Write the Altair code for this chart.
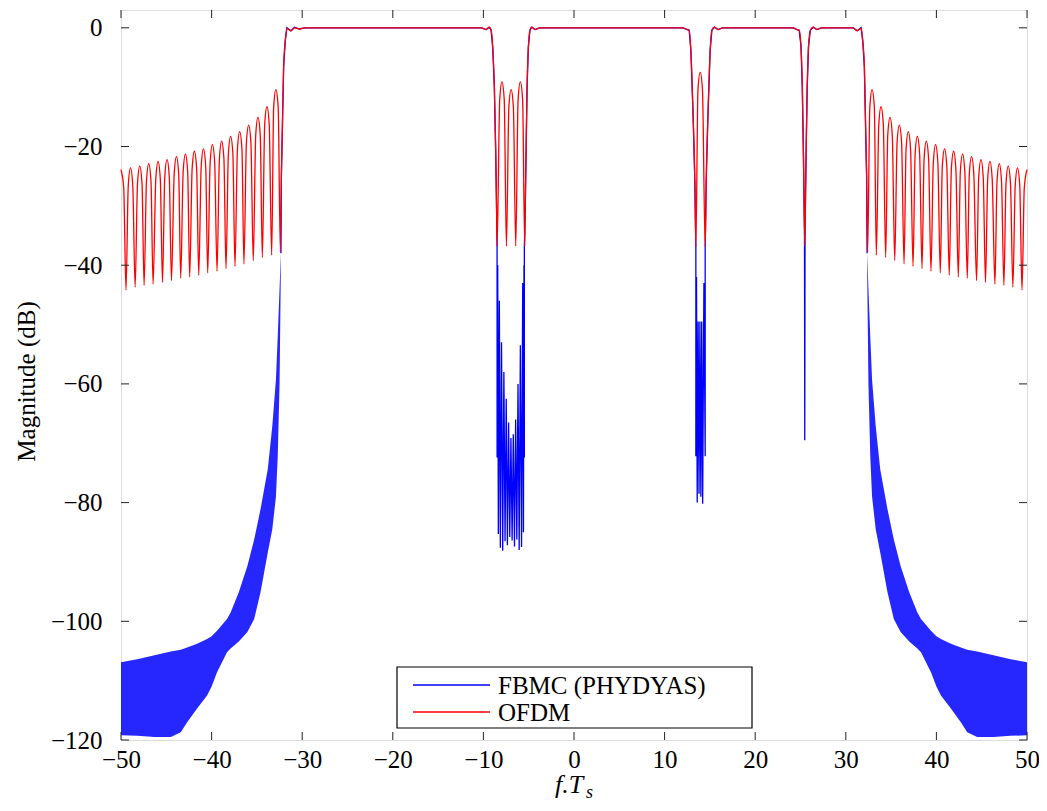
import altair as alt
import pandas as pd

# ---------------- values ----------------
X_TICKS = [-50, -40, -30, -20, -10, 0, 10, 20, 30, 40, 50]
Y_TICKS = [-120, -100, -80, -60, -40, -20, 0]

# OFDM (red): left stop band side lobes (right stop band is its mirror image)
OFDM_EDGE_X = [-50.0, -49.7]
OFDM_EDGE_DB = [-23.9, -27.0]
OFDM_NULL_X = [-49.45, -48.44, -47.45, -46.46, -45.42, -44.43, -43.41, -42.42, -41.42,
               -40.43, -39.40, -38.41, -37.42, -36.43, -35.40, -34.40, -33.37]
OFDM_NULL_DB = [-44.2, -43.7, -43.4, -43.2, -42.9, -42.6, -42.2, -42.0, -41.7,
                -41.3, -41.0, -40.6, -40.2, -39.8, -39.2, -38.7, -38.3]
OFDM_PEAK_X = [-48.95, -47.93, -46.94, -45.91, -44.92, -43.88, -42.89, -41.90, -40.90,
               -39.91, -38.89, -37.90, -36.90, -35.91, -34.88, -33.89, -32.90]
OFDM_PEAK_DB = [-23.6, -23.3, -22.9, -22.5, -22.2, -21.7, -21.3, -20.8, -20.4,
                -19.7, -19.1, -18.3, -17.5, -16.4, -15.1, -13.3, -10.4]
LOBE_HALF = 0.25   # lobe shoulders sit ~3 dB below the peak, a quarter unit away
LOBE_DROP = 3.0

# OFDM pass bands and notches
OFDM_IN_X = [-32.41, -32.30, -32.20, -32.05, -31.87, -31.69, -31.25, -30.85, -30.3, -29.7,
             -10.2, -9.7, -9.35, -9.15, -8.97, -8.79, -8.64, -8.53, -8.49, -8.20, -7.95,
             -7.70, -7.46, -7.19, -6.94, -6.69, -6.43, -6.17, -5.92, -5.67, -5.44, -5.40,
             -5.29, -5.18, -5.04, -4.86, -4.66, -4.3, -3.8, 12.0, 12.5, 12.71, 12.90, 13.15,
             13.34, 13.45, 13.68, 13.93, 14.18, 14.48, 14.59, 14.78, 15.03, 15.22, 15.5, 15.9,
             16.4, 24.2, 24.6, 24.85, 25.05, 25.20, 25.33, 25.47, 25.61, 25.74, 25.89, 26.09,
             26.4, 26.8, 27.3, 30.8, 31.25, 31.69, 31.87, 32.05, 32.20, 32.30, 32.41]
OFDM_IN_DB = [-37.8, -25.0, -17.8, -6.6, -2.2, -0.1, -0.5, 0.0, -0.2, 0.0,
              0.0, -0.3, 0.1, -0.4, -3.3, -10.0, -21.0, -32.0, -36.8, -12.1, -9.1,
              -12.1, -36.8, -13.4, -10.4, -13.4, -36.8, -12.1, -9.1, -12.1, -36.8, -32.0,
              -21.0, -10.0, -3.3, -0.4, 0.1, -0.3, 0.0, 0.0, -0.3, -0.4, -3.8, -15.0,
              -26.0, -36.9, -10.5, -7.5, -10.5, -36.9, -26.0, -15.0, -3.8, -0.4, 0.1, -0.3,
              0.0, 0.0, -0.3, -0.4, -3.0, -10.0, -22.0, -36.8, -22.0, -10.0, -3.0, -0.4,
              0.1, -0.3, 0.0, 0.0, -0.5, -0.1, -2.2, -6.6, -17.8, -25.0, -37.8]

# FBMC (blue): left stop band envelope of the dense ripple (right is the mirror)
FBMC_SB_X = [-50.0, -48.2, -46.3, -44.5, -43.4, -42.7, -41.6, -40.5, -40.0, -39.4, -38.3,
             -37.9, -37.0, -36.05, -35.3, -34.6, -33.8, -33.3, -32.9, -32.7, -32.5, -32.35]
FBMC_SB_UPPER = [-106.9, -106.4, -105.7, -105.1, -104.8, -104.4, -103.8, -103.0, -102.5,
                 -101.6, -99.6, -98.5, -95.1, -90.7, -86.2, -81.1, -74.4, -67.1, -59.3,
                 -52.0, -44.0, -38.0]
FBMC_SB_LOWER = [-119.2, -119.3, -119.5, -119.5, -118.7, -117.0, -114.7, -112.5, -111.0,
                 -108.6, -105.2, -104.6, -103.4, -101.8, -99.6, -95.1, -88.4, -84.5, -79.0,
                 -72.2, -60.0, -40.0]

# FBMC pass bands and notches
FBMC_A_X = [-32.35, -32.30, -32.20, -32.05, -31.87, -31.69, -31.25, -30.85, -30.3, -29.7,
            -10.2, -9.7, -9.35, -9.15, -8.97, -8.79, -8.64, -8.53, -8.49]
FBMC_A_DB = [-38.0, -25.0, -17.8, -6.6, -2.2, 0.0, -0.5, 0.1, -0.2, 0.0,
             0.0, -0.3, 0.1, -0.4, -3.3, -10.0, -21.0, -32.0, -36.9]
GAP1_X = [-8.49, -8.42, -8.35, -8.24, -8.13, -8.00, -7.87, -7.74, -7.61, -7.48, -7.35,
          -7.22, -7.09, -6.96, -6.83, -6.70, -6.57, -6.44, -6.31, -6.18, -6.05, -5.92,
          -5.79, -5.66, -5.58, -5.52, -5.48]
GAP1_DB = [-72.4, -40.0, -85.3, -46.0, -87.6, -53.0, -88.1, -58.0, -86.5, -62.5, -87.2,
           -66.5, -85.8, -69.1, -86.4, -68.5, -87.4, -66.0, -86.2, -60.0, -88.0, -53.5,
           -87.5, -43.0, -85.0, -40.0, -72.4]
FBMC_B_X = [-5.48, -5.40, -5.29, -5.18, -5.04, -4.86, -4.66, -4.3, -3.8, 12.0, 12.5, 12.71,
            12.90, 13.15, 13.34, 13.45]
FBMC_B_DB = [-36.9, -32.0, -21.0, -10.0, -3.3, -0.4, 0.1, -0.3, 0.0, 0.0, -0.3, -0.4,
             -3.8, -15.0, -26.0, -36.9]
GAP2_X = [13.45, 13.52, 13.60, 13.70, 13.80, 13.90, 14.00, 14.10, 14.20, 14.34, 14.48]
GAP2_DB = [-72.2, -42.0, -80.0, -49.5, -78.5, -49.5, -79.0, -49.5, -80.2, -43.0, -72.2]
FBMC_C_X = [14.48, 14.59, 14.78, 15.03, 15.22, 15.5, 15.9, 16.4, 24.2, 24.6, 24.85, 25.05,
            25.20, 25.33, 25.44, 25.47, 25.50, 25.61, 25.74, 25.89, 26.09, 26.4, 26.8, 27.3,
            30.8, 31.25, 31.69, 31.87, 32.05, 32.20, 32.30, 32.35]
FBMC_C_DB = [-36.9, -26.0, -15.0, -3.8, -0.4, 0.1, -0.3, 0.0, 0.0, -0.3, -0.4, -3.0,
             -10.0, -22.0, -34.0, -69.5, -34.0, -22.0, -10.0, -3.0, -0.4, 0.1, -0.3, 0.0,
             0.0, -0.5, 0.0, -2.2, -6.6, -17.8, -25.0, -38.0]

SERIES = ["FBMC (PHYDYAS)", "OFDM"]
COLORS = ["#0000ff", "#ff0000"]

# ---------------- tables ----------------
left_x, left_y = list(OFDM_EDGE_X), list(OFDM_EDGE_DB)
for nx, ny, px, py in zip(OFDM_NULL_X, OFDM_NULL_DB, OFDM_PEAK_X, OFDM_PEAK_DB):
    left_x += [nx, px - LOBE_HALF, px, px + LOBE_HALF]
    left_y += [ny, py - LOBE_DROP, py, py - LOBE_DROP]
red_x = left_x + OFDM_IN_X + [-v for v in reversed(left_x)]
red_y = left_y + OFDM_IN_DB + list(reversed(left_y))
ofdm = pd.DataFrame({"x": red_x, "y": red_y, "series": SERIES[1]})
ofdm["i"] = range(len(ofdm))

blue_x = FBMC_A_X + GAP1_X + FBMC_B_X + GAP2_X + FBMC_C_X
blue_y = FBMC_A_DB + GAP1_DB + FBMC_B_DB + GAP2_DB + FBMC_C_DB
fbmc = pd.DataFrame({"x": blue_x, "y": blue_y, "series": SERIES[0]})
fbmc["i"] = range(len(fbmc))

sb = pd.concat([
    pd.DataFrame({"x": FBMC_SB_X, "hi": FBMC_SB_UPPER, "lo": FBMC_SB_LOWER, "side": "L"}),
    pd.DataFrame({"x": [-v for v in FBMC_SB_X], "hi": FBMC_SB_UPPER, "lo": FBMC_SB_LOWER,
                  "side": "R"}),
])

xt = pd.DataFrame({"t": X_TICKS})
yt = pd.DataFrame({"t": Y_TICKS})
one = pd.DataFrame({"a": [0]})

# ---------------- chart ----------------
W, H = 906, 730
FONT = "Liberation Serif"
XS = alt.Scale(domain=[-50, 50], nice=False, zero=False)
YS = alt.Scale(domain=[-120, 3], nice=False, zero=False)
XA = alt.Axis(values=X_TICKS, ticks=False, domain=False, grid=False, labelFont=FONT,
              labelFontSize=25, labelColor="black", labelPadding=7, labelFlush=False,
              labelOverlap=False, title=None)
YA = alt.Axis(values=Y_TICKS, ticks=False, domain=False, grid=False, labelFont=FONT,
              labelFontSize=25, labelColor="black", labelPadding=19, labelFlush=False,
              labelOverlap=False, title="Magnitude (dB)", titleFont=FONT, titleFontSize=25,
              titleFontWeight="normal", titleColor="black", titleX=-95, titleY=371,
              titleAngle=270, titleAlign="center", titleBaseline="middle")
CS = alt.Scale(domain=SERIES, range=COLORS)

area = alt.Chart(sb).mark_area(color="#0000ff", opacity=0.85).encode(
    x=alt.X("x:Q", scale=XS, axis=XA),
    y=alt.Y("lo:Q", scale=YS, axis=YA),
    y2="hi:Q",
    detail="side:N",
)
blue = alt.Chart(fbmc).mark_line(strokeWidth=1.3).encode(
    x=alt.X("x:Q", scale=XS, axis=XA),
    y=alt.Y("y:Q", scale=YS, axis=YA),
    color=alt.Color("series:N", scale=CS, legend=None),
    order="i:Q",
)
red = alt.Chart(ofdm).mark_line(strokeWidth=1.3, interpolate="monotone").encode(
    x=alt.X("x:Q", scale=XS, axis=XA),
    y=alt.Y("y:Q", scale=YS, axis=YA),
    color=alt.Color("series:N", scale=CS, legend=None),
    order="i:Q",
)
TL = 8
tick_style = dict(color="#222222", strokeWidth=1)
tb = alt.Chart(xt).mark_rule(**tick_style).encode(
    x=alt.X("t:Q", scale=XS, axis=XA), y=alt.value(H), y2=alt.value(H - TL))
tt = alt.Chart(xt).mark_rule(**tick_style).encode(
    x=alt.X("t:Q", scale=XS, axis=XA), y=alt.value(0), y2=alt.value(TL))
tl = alt.Chart(yt).mark_rule(**tick_style).encode(
    y=alt.Y("t:Q", scale=YS, axis=YA), x=alt.value(0), x2=alt.value(TL))
tr = alt.Chart(yt).mark_rule(**tick_style).encode(
    y=alt.Y("t:Q", scale=YS, axis=YA), x=alt.value(W), x2=alt.value(W - TL))

# legend box (drawn by hand, pixel positions inside the plot area)
LX0, LX1, LY0, LY1 = 276, 631, 657, 718
ROWS = [675, 702]
legend_layers = [
    alt.Chart(one).mark_rect(fill="white", stroke="black", strokeWidth=1.2).encode(
        x=alt.value(LX0), x2=alt.value(LX1), y=alt.value(LY0), y2=alt.value(LY1))
]
for name, col, ry in zip(SERIES, COLORS, ROWS):
    legend_layers.append(alt.Chart(one).mark_rule(strokeWidth=1.3, color=col).encode(
        x=alt.value(LX0 + 16), x2=alt.value(LX0 + 93), y=alt.value(ry)))
    legend_layers.append(alt.Chart(one).mark_text(
        text=name, font=FONT, fontSize=25, align="left", baseline="middle",
        color="black", dy=1).encode(x=alt.value(LX0 + 101), y=alt.value(ry)))

xt1 = alt.Chart(one).mark_text(text="f.T", font=FONT, fontSize=26, fontStyle="italic",
                               align="left", baseline="alphabetic", color="black").encode(
    x=alt.value(434), y=alt.value(783))
xt2 = alt.Chart(one).mark_text(text="s", font=FONT, fontSize=18, fontStyle="italic",
                               align="left", baseline="alphabetic", color="black").encode(
    x=alt.value(465), y=alt.value(788))

chart = alt.layer(area, blue, red, tb, tt, tl, tr, *legend_layers, xt1, xt2).properties(
    width=W, height=H,
    padding={"left": 113, "top": 2, "right": 12, "bottom": 62},
    autosize=alt.AutoSizeParams(type="none"),
).configure_view(stroke="black", strokeWidth=1).configure(background="white")

chart.save("out.html", embed_options={"renderer": "svg", "actions": False})
